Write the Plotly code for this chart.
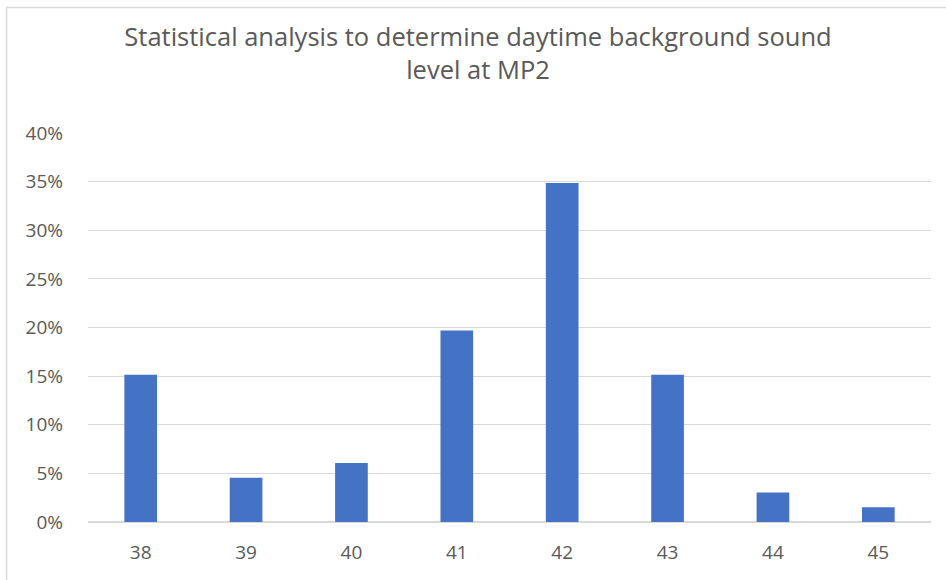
import plotly.graph_objects as go

categories = ["38", "39", "40", "41", "42", "43", "44", "45"]
values = [0.1515, 0.0455, 0.0606, 0.1970, 0.3485, 0.1515, 0.0303, 0.0152]
tick_vals = [0, 0.05, 0.10, 0.15, 0.20, 0.25, 0.30, 0.35, 0.40]
tick_text = ["0%", "5%", "10%", "15%", "20%", "25%", "30%", "35%", "40%"]

W, H = 946, 580
L, R, T, B = 88, 15, 133, 58
pw, ph = W - L - R, H - T - B

def px_x(p):
    return (p - L) / pw

def px_y(p):
    return (H - B - p) / ph

fig = go.Figure(go.Bar(x=categories, y=values, marker=dict(color="#4472C4", line=dict(width=0)),
                       hoverinfo="x+y"))

font_family = "Open Sans, Liberation Sans, sans-serif"
fig.update_layout(
    width=W, height=H,
    margin=dict(l=L, r=R, t=T, b=B),
    paper_bgcolor="white", plot_bgcolor="white",
    bargap=0.69,
    showlegend=False,
    font=dict(family=font_family, color="#595959", size=19),
    title=dict(text="Statistical analysis to determine daytime background sound<br>level at MP2",
               x=478 / W, xanchor="center", xref="container", y=1 - 46 / H, yanchor="top",
               font=dict(family=font_family, size=25.5, color="#595959")),
    xaxis=dict(type="category", showgrid=False, showline=False, ticks="",
               ticklabelstandoff=17,
               tickfont=dict(size=19, color="#595959")),
    yaxis=dict(range=[0, 0.40], tickvals=tick_vals, ticktext=tick_text, showgrid=True,
               gridcolor="#D9D9D9", gridwidth=1, zeroline=True, zerolinecolor="#D9D9D9",
               showline=False, ticks="", ticklen=0, ticklabelstandoff=24,
               tickfont=dict(size=19, color="#595959")),
    shapes=[dict(type="rect", xref="paper", yref="paper",
                 x0=px_x(6.5), x1=px_x(960), y0=px_y(600), y1=px_y(7.5),
                 line=dict(color="#D9D9D9", width=1.5), fillcolor="rgba(0,0,0,0)", layer="below")],
)

fig.write_html("out.html")
